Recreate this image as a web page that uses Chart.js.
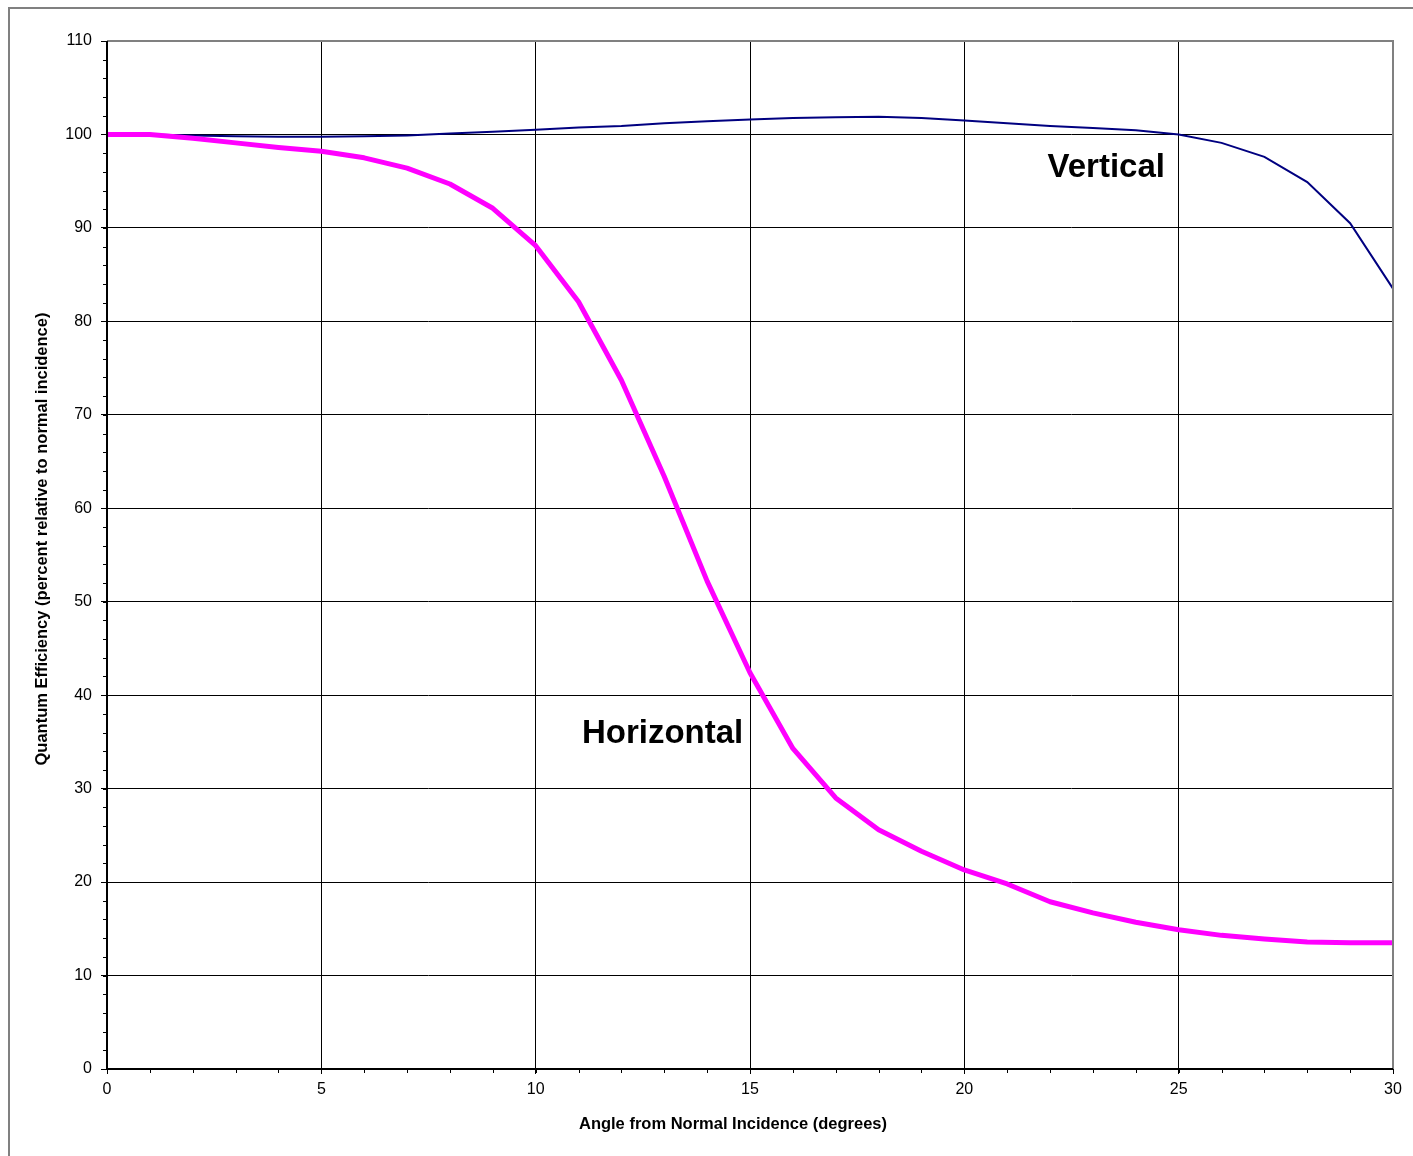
<!DOCTYPE html>
<html>
<head>
<meta charset="utf-8">
<title>Quantum Efficiency vs Angle</title>
<script src="https://cdn.jsdelivr.net/npm/chart.js@4.4.1/dist/chart.umd.min.js"></script>
<style>
  html, body { margin: 0; padding: 0; background: #fff; }
  #wrap { width: 1413px; height: 1156px; }
</style>
</head>
<body>
<div id="wrap"><canvas id="qeChart" width="1413" height="1156"></canvas></div>
<script>
// Data
const angles = [0, 1, 2, 3, 4, 5, 6, 7, 8, 9, 10, 11, 12, 13, 14, 15, 16, 17, 18, 19, 20, 21, 22, 23, 24, 25, 26, 27, 28, 29, 30];
const horizontal = [100, 100, 99.6, 99.1, 98.6, 98.2, 97.5, 96.4, 94.7, 92.1, 88.1, 82.1, 73.7, 63.4, 52.2, 42.4, 34.3, 29.0, 25.6, 23.3, 21.3, 19.8, 17.9, 16.7, 15.7, 14.9, 14.3, 13.9, 13.6, 13.5, 13.5];
const vertical = [100, 100, 99.9, 99.8, 99.75, 99.75, 99.8, 99.9, 100.1, 100.3, 100.5, 100.75, 100.9, 101.2, 101.4, 101.6, 101.75, 101.85, 101.9, 101.75, 101.5, 101.2, 100.9, 100.7, 100.45, 100, 99.1, 97.6, 94.9, 90.5, 83.5];

const seriesNames = ['Horizontal', 'Vertical'];
const xTitle = 'Angle from Normal Incidence (degrees)';
const yTitle = 'Quantum Efficiency (percent relative to normal incidence)';

const FONT = '"Liberation Sans", Arial, sans-serif';

// where the series names sit (data coordinates)
const seriesLabels = [
  { text: seriesNames[0], x: 11.08, y: 34.9, align: 'left' },
  { text: seriesNames[1], x: 24.68, y: 95.45, align: 'right' }
];

function toPoints(values) {
  return angles.map((a, i) => ({ x: a, y: values[i] }));
}

// Frame, plot border, minor ticks, axis titles and series names
const excelLook = {
  id: 'excelLook',
  beforeDraw(chart) {
    const ctx = chart.ctx;
    ctx.save();
    ctx.fillStyle = '#fff';
    ctx.fillRect(0, 0, chart.width, chart.height);
    ctx.strokeStyle = '#808080';
    ctx.lineWidth = 2;
    ctx.strokeRect(9, 8, chart.width + 50, chart.height + 50);
    ctx.restore();
  },
  afterDraw(chart) {
    const ctx = chart.ctx;
    const area = chart.chartArea;
    const xs = chart.scales.x;
    const ys = chart.scales.y;
    ctx.save();

    // gray plot border on top and right
    ctx.strokeStyle = '#808080';
    ctx.lineWidth = 2;
    ctx.beginPath();
    ctx.moveTo(area.left, area.top);
    ctx.lineTo(area.right, area.top);
    ctx.lineTo(area.right, area.bottom);
    ctx.stroke();

    // axes
    ctx.strokeStyle = '#000';
    ctx.lineWidth = 2;
    ctx.beginPath();
    ctx.moveTo(area.left, area.top);
    ctx.lineTo(area.left, area.bottom);
    ctx.lineTo(area.right, area.bottom);
    ctx.stroke();

    // minor ticks
    ctx.lineWidth = 1;
    ctx.beginPath();
    for (let v = 0; v <= 110; v += 2) {
      const py = Math.round(ys.getPixelForValue(v)) + 0.5;
      ctx.moveTo(area.left - 4, py);
      ctx.lineTo(area.left, py);
    }
    for (let v = 0; v <= 30; v += 1) {
      const px = Math.round(xs.getPixelForValue(v)) + 0.5;
      ctx.moveTo(px, area.bottom);
      ctx.lineTo(px, area.bottom + 4);
    }
    ctx.stroke();

    // axis titles (centred on the whole chart like Excel, not on the plot)
    ctx.fillStyle = '#000';
    ctx.font = 'bold 16.5px ' + FONT;
    ctx.textAlign = 'center';
    ctx.textBaseline = 'middle';
    ctx.fillText(xTitle, (area.left + area.right) / 2 - 17, area.bottom + 55);
    ctx.save();
    ctx.translate(area.left - 65, (area.top + area.bottom) / 2 - 16);
    ctx.rotate(-Math.PI / 2);
    ctx.fillText(yTitle, 0, 0);
    ctx.restore();

    // series names
    ctx.font = 'bold 33px ' + FONT;
    ctx.textBaseline = 'alphabetic';
    seriesLabels.forEach(l => {
      ctx.textAlign = l.align;
      ctx.fillText(l.text, xs.getPixelForValue(l.x), ys.getPixelForValue(l.y));
    });
    ctx.restore();
  }
};

document.addEventListener('DOMContentLoaded', () => {
  const ctx = document.getElementById('qeChart');
  new Chart(ctx, {
    type: 'line',
    data: {
      datasets: [{
        label: seriesNames[0],
        data: toPoints(horizontal),
        borderColor: '#ff00ff',
        backgroundColor: '#ff00ff',
        borderWidth: 5,
        pointRadius: 0,
        tension: 0,
        borderJoinStyle: 'round',
        order: 0
      }, {
        label: seriesNames[1],
        data: toPoints(vertical),
        borderColor: '#000080',
        backgroundColor: '#000080',
        borderWidth: 2,
        pointRadius: 0,
        tension: 0,
        order: 1
      }]
    },
    options: {
      responsive: false,
      devicePixelRatio: 1,
      animation: false,
      layout: { padding: { top: 41, right: 20, left: 0, bottom: 0 } },
      plugins: {
        legend: { display: false },
        tooltip: { enabled: false }
      },
      scales: {
        x: {
          type: 'linear',
          min: 0,
          max: 30,
          afterFit: s => { s.height = 87; },
          border: { display: false },
          grid: {
            color: c => (c.tick && c.tick.value === 30 ? '#808080' : '#000'),
            lineWidth: 1,
            tickLength: 5,
            tickColor: '#000'
          },
          ticks: {
            stepSize: 5,
            padding: 6,
            color: '#000',
            font: { family: FONT, size: 16 },
            maxRotation: 0
          }
        },
        y: {
          min: 0,
          max: 110,
          afterFit: s => { s.width = 107; },
          border: { display: false },
          grid: {
            color: c => (c.tick && c.tick.value === 110 ? '#808080' : '#000'),
            lineWidth: 1,
            tickLength: 6,
            tickColor: '#000'
          },
          ticks: {
            stepSize: 10,
            padding: 9,
            color: '#000',
            font: { family: FONT, size: 16 }
          }
        }
      }
    },
    plugins: [excelLook]
  });
});
</script>
</body>
</html>
